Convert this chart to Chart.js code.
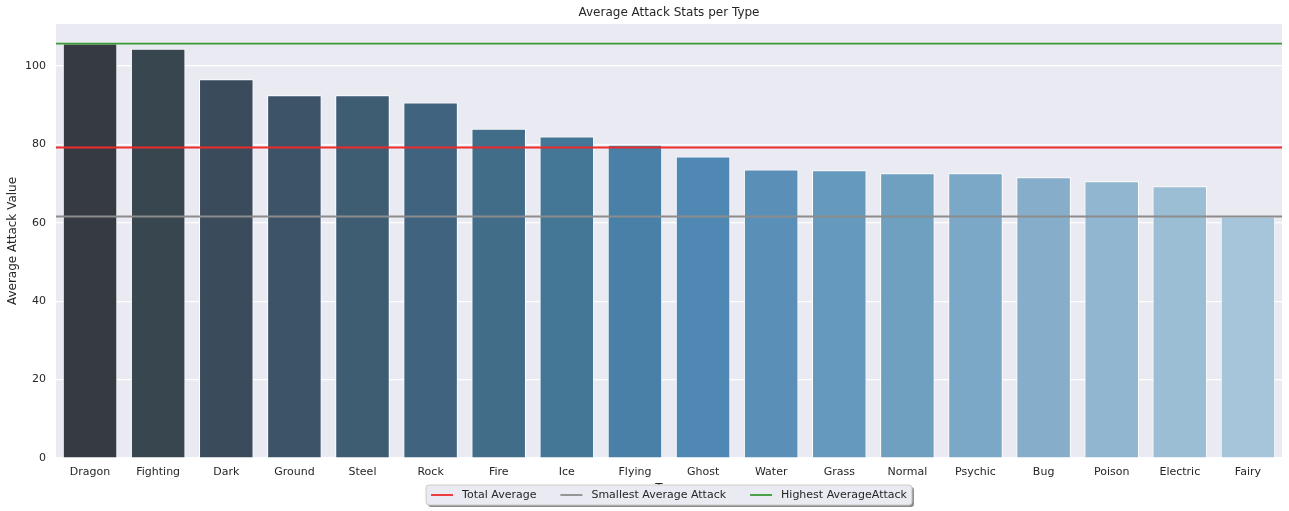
<!DOCTYPE html>
<html>
<head>
<meta charset="utf-8">
<script src="https://cdn.jsdelivr.net/npm/chart.js@4"></script>
<style>
    html, body { margin: 0; padding: 0; background: #ffffff; }
    #wrap { width: 1289px; height: 511px; }
</style>
</head>
<body>
<div id="wrap"><canvas id="attackChart"></canvas></div>
<script>
// Data
const types = ['Dragon', 'Fighting', 'Dark', 'Ground', 'Steel', 'Rock', 'Fire', 'Ice', 'Flying',
    'Ghost', 'Water', 'Grass', 'Normal', 'Psychic', 'Bug', 'Poison', 'Electric', 'Fairy'];
const avgAttack = [105.7, 104.4, 96.6, 92.5, 92.5, 90.7, 84.0, 82.0, 79.9,
    76.9, 73.6, 73.4, 72.6, 72.6, 71.6, 70.6, 69.3, 61.6];
const barColors = ['#363b43', '#37464f', '#3a4b5b', '#3d5468', '#3e5d72', '#40647f', '#416d89', '#437795', '#4880a8',
    '#4f88b3', '#5a90b7', '#6599bd', '#6fa0c0', '#7aa8c6', '#86aeca', '#91b6cf', '#9cbed4', '#a7c5da'];
const yTicks = [0, 20, 40, 60, 80, 100];

const refLabels = ['Total Average', 'Smallest Average Attack', 'Highest AverageAttack'];
const refValues = [79.2, 61.6, 105.7];
const refColors = ['#ee2a2a', '#8c8c8c', '#3a9a36'];

const chartTitle = 'Average Attack Stats per Type';
const textColor = '#262626';
const fontFamily = '"DejaVu Sans", sans-serif';

// horizontal reference lines across the whole plot area
const refLinesPlugin = {
    id: 'refLines',
    afterDatasetsDraw(chart) {
        const { ctx, chartArea, scales } = chart;
        ctx.save();
        ctx.lineWidth = 1.8;
        refValues.forEach((v, i) => {
            const y = scales.y.getPixelForValue(v);
            ctx.strokeStyle = refColors[i];
            ctx.beginPath();
            ctx.moveTo(chartArea.left, y);
            ctx.lineTo(chartArea.right, y);
            ctx.stroke();
        });
        ctx.restore();
    }
};

// title centred over the plot area, legend box below it (matplotlib style)
const boxLegendPlugin = {
    id: 'boxLegend',
    afterDraw(chart) {
        const { ctx, chartArea } = chart;
        const cx = (chartArea.left + chartArea.right) / 2;
        ctx.save();

        ctx.font = '12px ' + fontFamily;
        ctx.fillStyle = textColor;
        ctx.textAlign = 'center';
        ctx.textBaseline = 'middle';
        ctx.fillText(chartTitle, cx, 13);
        ctx.textAlign = 'left';

        ctx.font = '11px ' + fontFamily;
        const lineLen = 22, textGap = 9, colGap = 24, padX = 5;
        const widths = refLabels.map(l => ctx.measureText(l).width);
        let total = padX * 2;
        widths.forEach((w, i) => { total += lineLen + textGap + w + (i < widths.length - 1 ? colGap : 0); });
        const x0 = cx - total / 2, y0 = 485, h = 20;

        // shadow
        ctx.fillStyle = '#8a8a8a';
        ctx.beginPath();
        ctx.roundRect(x0 + 2, y0 + 2, total, h, 3);
        ctx.fill();
        // box
        ctx.fillStyle = '#eaeaf2';
        ctx.strokeStyle = '#cccccc';
        ctx.lineWidth = 1;
        ctx.beginPath();
        ctx.roundRect(x0, y0, total, h, 3);
        ctx.fill();
        ctx.stroke();

        let x = x0 + padX;
        const yMid = y0 + h / 2;
        refLabels.forEach((label, i) => {
            ctx.strokeStyle = refColors[i];
            ctx.lineWidth = 1.8;
            ctx.beginPath();
            ctx.moveTo(x, yMid);
            ctx.lineTo(x + lineLen, yMid);
            ctx.stroke();
            x += lineLen + textGap;
            ctx.fillStyle = textColor;
            ctx.fillText(label, x, yMid);
            x += widths[i] + colGap;
        });
        ctx.restore();
    }
};

// seaborn-style grey plot background
const bgPlugin = {
    id: 'plotBg',
    beforeDraw(chart) {
        const { ctx, chartArea } = chart;
        ctx.save();
        ctx.fillStyle = '#eaeaf2';
        ctx.fillRect(chartArea.left, chartArea.top, chartArea.right - chartArea.left, chartArea.bottom - chartArea.top);
        ctx.restore();
    }
};

const ctx = document.getElementById('attackChart').getContext('2d');
new Chart(ctx, {
    type: 'bar',
    data: {
        labels: types,
        datasets: [{
            label: 'Average Attack',
            data: avgAttack,
            backgroundColor: barColors,
            borderColor: '#ffffff',
            borderWidth: 1,
            barPercentage: 0.8,
            categoryPercentage: 1.0
        }]
    },
    options: {
        responsive: true,
        maintainAspectRatio: false,
        animation: false,
        layout: { padding: { left: 0, right: 7, top: 24, bottom: 0 } },
        scales: {
            x: {
                grid: { display: false, drawTicks: false },
                border: { display: false },
                ticks: { color: textColor, font: { family: fontFamily, size: 11 }, padding: 8, maxRotation: 0, autoSkip: false },
                title: { display: true, text: 'Type', color: textColor, font: { family: fontFamily, size: 12 }, padding: { top: 6, bottom: 15 } },
                afterFit: (axis) => { axis.height = 53; }
            },
            y: {
                min: 0,
                max: 110.7,
                afterBuildTicks: (axis) => { axis.ticks = yTicks.map(v => ({ value: v })); },
                grid: { color: '#ffffff', lineWidth: 1.2, drawTicks: false },
                border: { display: false },
                ticks: { color: textColor, font: { family: fontFamily, size: 11 }, padding: 10 },
                title: { display: true, text: 'Average Attack Value', color: textColor, font: { family: fontFamily, size: 12 }, padding: { top: 6, bottom: 4 } },
                afterFit: (axis) => { axis.width = 56; }
            }
        },
        plugins: {
            legend: { display: false },
            tooltip: { enabled: false },
            title: { display: false }
        }
    },
    plugins: [bgPlugin, refLinesPlugin, boxLegendPlugin]
});
</script>
</body>
</html>
